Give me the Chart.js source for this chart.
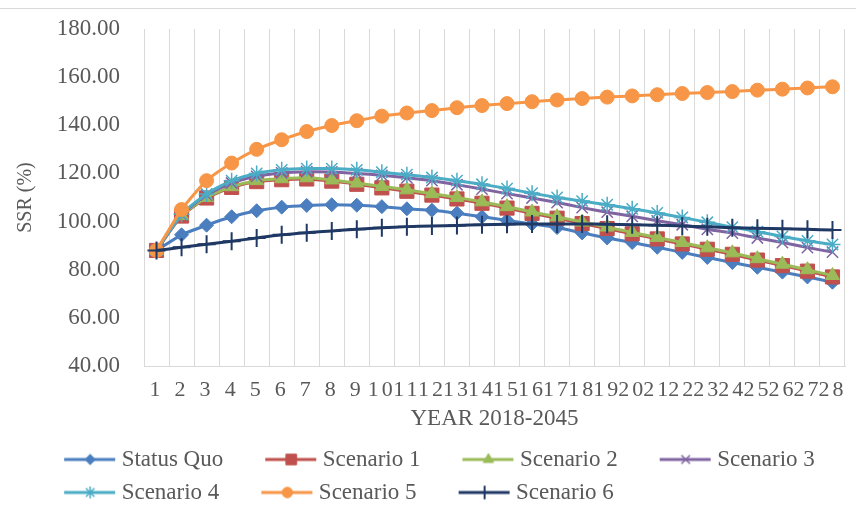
<!DOCTYPE html>
<html>
<head>
<meta charset="utf-8">
<script src="https://cdn.jsdelivr.net/npm/chart.js@4.4.0/dist/chart.umd.min.js"></script>
<style>
  html, body { margin: 0; padding: 0; background: #fff; }
  #wrap { position: relative; width: 856px; height: 508px; }
  #frame { position: absolute; left: 0; top: 8px; width: 856px; border-top: 1px solid #d9d9d9; }
  canvas { position: absolute; left: 0; top: 0; }
</style>
</head>
<body>
<div id="wrap">
  <div id="frame"></div>
  <canvas id="chart" width="856" height="508"></canvas>
</div>
<script>
// ----- DATA -----

const years = ['1', '2', '3', '4', '5', '6', '7', '8', '9', '10', '11', '12', '13', '14',
  '15', '16', '17', '18', '19', '20', '21', '22', '23', '24', '25', '26', '27', '28'];
const yTicks = [40, 60, 80, 100, 120, 140, 160, 180];

const statusQuo = [88, 94.5, 98.5, 102, 104.5, 106, 106.7, 107, 106.8, 106.2, 105.3, 104.7, 103.5, 102,
  100.5, 99, 97.5, 95.3, 93.2, 91.3, 89.3, 87.2, 85.1, 83, 81, 79, 77, 74.8];
const scenario1 = [88, 102.3, 109.8, 114.2, 116.6, 117.4, 117.7, 116.8, 115.5, 114, 112.6, 111, 109.4, 107.6,
  105.6, 103.4, 101.4, 99.2, 97.1, 94.9, 92.8, 90.7, 88.5, 86.4, 84, 81.7, 79.4, 77];
const scenario2 = [88, 102.5, 110, 114.5, 117, 117.8, 118.2, 117.3, 116, 114.6, 113.2, 111.6, 110, 108.2,
  106.2, 104, 102, 99.8, 97.7, 95.5, 93.4, 91.3, 89.1, 87, 84.6, 82.3, 80, 77.6];
const scenario3 = [88, 102.8, 111, 116, 118.8, 120.2, 120.7, 120.6, 120, 119.2, 118.2, 117, 115.3, 113.5,
  111.6, 109.8, 107.9, 105.8, 103.9, 102.2, 100.3, 98.7, 96.8, 95.2, 93.2, 91.3, 89.2, 87.3];
const scenario4 = [88, 103, 111.5, 117, 120, 121.5, 122, 122, 121.5, 120.5, 119.5, 118.3, 117, 115.5,
  113.7, 111.8, 110, 108.5, 107, 105.3, 103.6, 101.7, 99.7, 97.7, 95.8, 93.8, 92, 90.5];
const scenario5 = [88, 105, 117, 124.3, 130, 134, 137.4, 139.9, 141.9, 143.8, 145.1, 146.1, 147.3, 148.2,
  149, 149.8, 150.5, 151.1, 151.7, 152.2, 152.7, 153.2, 153.6, 154, 154.6, 155, 155.5, 156];
const scenario6 = [88, 89.3, 90.6, 91.8, 93.2, 94.5, 95.4, 96.1, 96.8, 97.4, 97.9, 98.2, 98.4, 98.7,
  98.9, 99, 99, 99, 98.9, 98.7, 98.5, 98.2, 97.8, 97.4, 97.2, 97, 96.8, 96.5];

const seriesNames = ['Status Quo', 'Scenario 1', 'Scenario 2', 'Scenario 3', 'Scenario 4', 'Scenario 5', 'Scenario 6'];
const seriesValues = [statusQuo, scenario1, scenario2, scenario3, scenario4, scenario5, scenario6];

// ----- STYLE -----

const FONT = 'Liberation Serif, Times New Roman, serif';
const TEXT = '#595959';
const GRID = '#d9d9d9';

const seriesStyle = [
  { color: '#4a7ebf', point: 'rectRot', radius: 7, bw: 1 },
  { color: '#c0504d', point: 'rect', radius: 10, bw: 1 },
  { color: '#9bbb59', point: 'triangle', radius: 8, bw: 1 },
  { color: '#8064a2', point: 'crossRot', radius: 8, bw: 1.5 },
  { color: '#4bacc6', point: 'star', radius: 8, bw: 1.5 },
  { color: '#f79646', point: 'circle', radius: 7, bw: 1 },
  { color: '#1f3864', point: 'cross', radius: 9, bw: 2 },
];

// ----- LEGEND SWATCHES (line + marker) -----

const BOX_W = 78;            // legend box width used by Chart.js
const SWATCH_W = BOX_W + 12; // image runs a bit past the box, up to the text

function makeSwatch(style) {
  const c = document.createElement('canvas');
  c.width = SWATCH_W;
  c.height = 24;
  const g = c.getContext('2d');
  if (!style) return c;
  g.strokeStyle = style.color;
  g.fillStyle = style.color;
  g.lineWidth = 3;
  g.beginPath();
  g.moveTo(SWATCH_W - 52, 12);
  g.lineTo(SWATCH_W - 1, 12);
  g.stroke();
  if (Chart.helpers && Chart.helpers.drawPoint) {
    g.lineWidth = style.bw;
    Chart.helpers.drawPoint(g, {
      pointStyle: style.point,
      radius: style.radius * 0.75,
      borderWidth: style.bw,
      rotation: 0,
    }, SWATCH_W - 26, 12);
  }
  return c;
}

const swatches = seriesStyle.map(makeSwatch);
const blankSwatch = makeSwatch(null);

// ----- SMALL LAYOUT TWEAKS -----

const tweaks = {
  id: 'tweaks',
  afterLayout(chart) {
    // nudge the legend block a little to the left
    chart.legend.right -= 9;
  },
  beforeDraw(chart) {
    // wide glyph spacing on the x labels, like the original
    const scale = chart.scales.x;
    if (scale._spaced) return;
    const orig = scale.drawLabels.bind(scale);
    scale.drawLabels = function (area) {
      chart.ctx.save();
      chart.ctx.letterSpacing = '3px';
      orig(area);
      chart.ctx.restore();
    };
    scale._spaced = true;
  },
};

// ----- CHART -----

const ctx = document.getElementById('chart').getContext('2d');

new Chart(ctx, {
  type: 'line',
  data: {
    labels: years,
    datasets: seriesValues.map((vals, i) => ({
      label: seriesNames[i],
      data: vals,
      borderColor: seriesStyle[i].color,
      backgroundColor: seriesStyle[i].color,
      pointBackgroundColor: seriesStyle[i].color,
      pointBorderColor: seriesStyle[i].color,
      pointStyle: seriesStyle[i].point,
      pointRadius: seriesStyle[i].radius,
      pointBorderWidth: seriesStyle[i].bw,
      borderWidth: 3,
      tension: 0.2,
      fill: false,
      order: seriesValues.length - i,
    })),
  },
  options: {
    responsive: false,
    animation: false,
    devicePixelRatio: 1,
    layout: { padding: { top: 29, right: 0, bottom: -6, left: 0 } },
    plugins: {
      tooltip: { enabled: false },
      legend: {
        position: 'bottom',
        onClick: null,
        labels: {
          usePointStyle: true,
          pointStyleWidth: BOX_W,
          padding: 10,
          color: TEXT,
          font: { family: FONT, size: 23 },
          generateLabels: (chart) => {
            const items = chart.data.datasets.map((ds, i) => ({
              text: ds.label,
              fillStyle: ds.borderColor,
              strokeStyle: ds.borderColor,
              lineWidth: 0,
              pointStyle: swatches[i],
              fontColor: TEXT,
              hidden: false,
              datasetIndex: i,
            }));
            // invisible slot so the second row lines up with the first
            items.push({
              text: seriesNames[0],
              fillStyle: 'rgba(0,0,0,0)',
              strokeStyle: 'rgba(0,0,0,0)',
              lineWidth: 0,
              pointStyle: blankSwatch,
              fontColor: 'rgba(0,0,0,0)',
              hidden: false,
            });
            return items;
          },
        },
      },
    },
    scales: {
      x: {
        offset: true,
        afterFit: (axis) => { axis.height = 72; },
        grid: { offset: true, color: GRID, lineWidth: 1, drawTicks: false },
        border: { color: GRID },
        ticks: {
          autoSkip: false,
          maxRotation: 0,
          padding: 11,
          color: TEXT,
          font: { family: FONT, size: 22 },
        },
        title: {
          display: true,
          text: 'YEAR 2018-2045',
          color: TEXT,
          font: { family: FONT, size: 23 },
          padding: { top: 0, bottom: 5 },
        },
      },
      y: {
        min: 40,
        max: 180,
        afterFit: (axis) => {
          axis.width = 144;
          // the label padding should not push the plot down
          axis.paddingTop = 0;
          axis.paddingBottom = 0;
        },
        afterBuildTicks: (axis) => {
          axis.ticks = yTicks.map((v) => ({ value: v }));
        },
        grid: { display: false, drawTicks: false },
        border: { display: true, color: GRID },
        ticks: {
          padding: 24,
          color: TEXT,
          font: { family: FONT, size: 23 },
          callback: (value) => Number(value).toFixed(2),
        },
        title: {
          display: true,
          text: 'SSR (%)',
          color: TEXT,
          font: { family: FONT, size: 20 },
          padding: { top: 14, bottom: 0 },
        },
      },
    },
  },
  plugins: [tweaks],
});
</script>
</body>
</html>
